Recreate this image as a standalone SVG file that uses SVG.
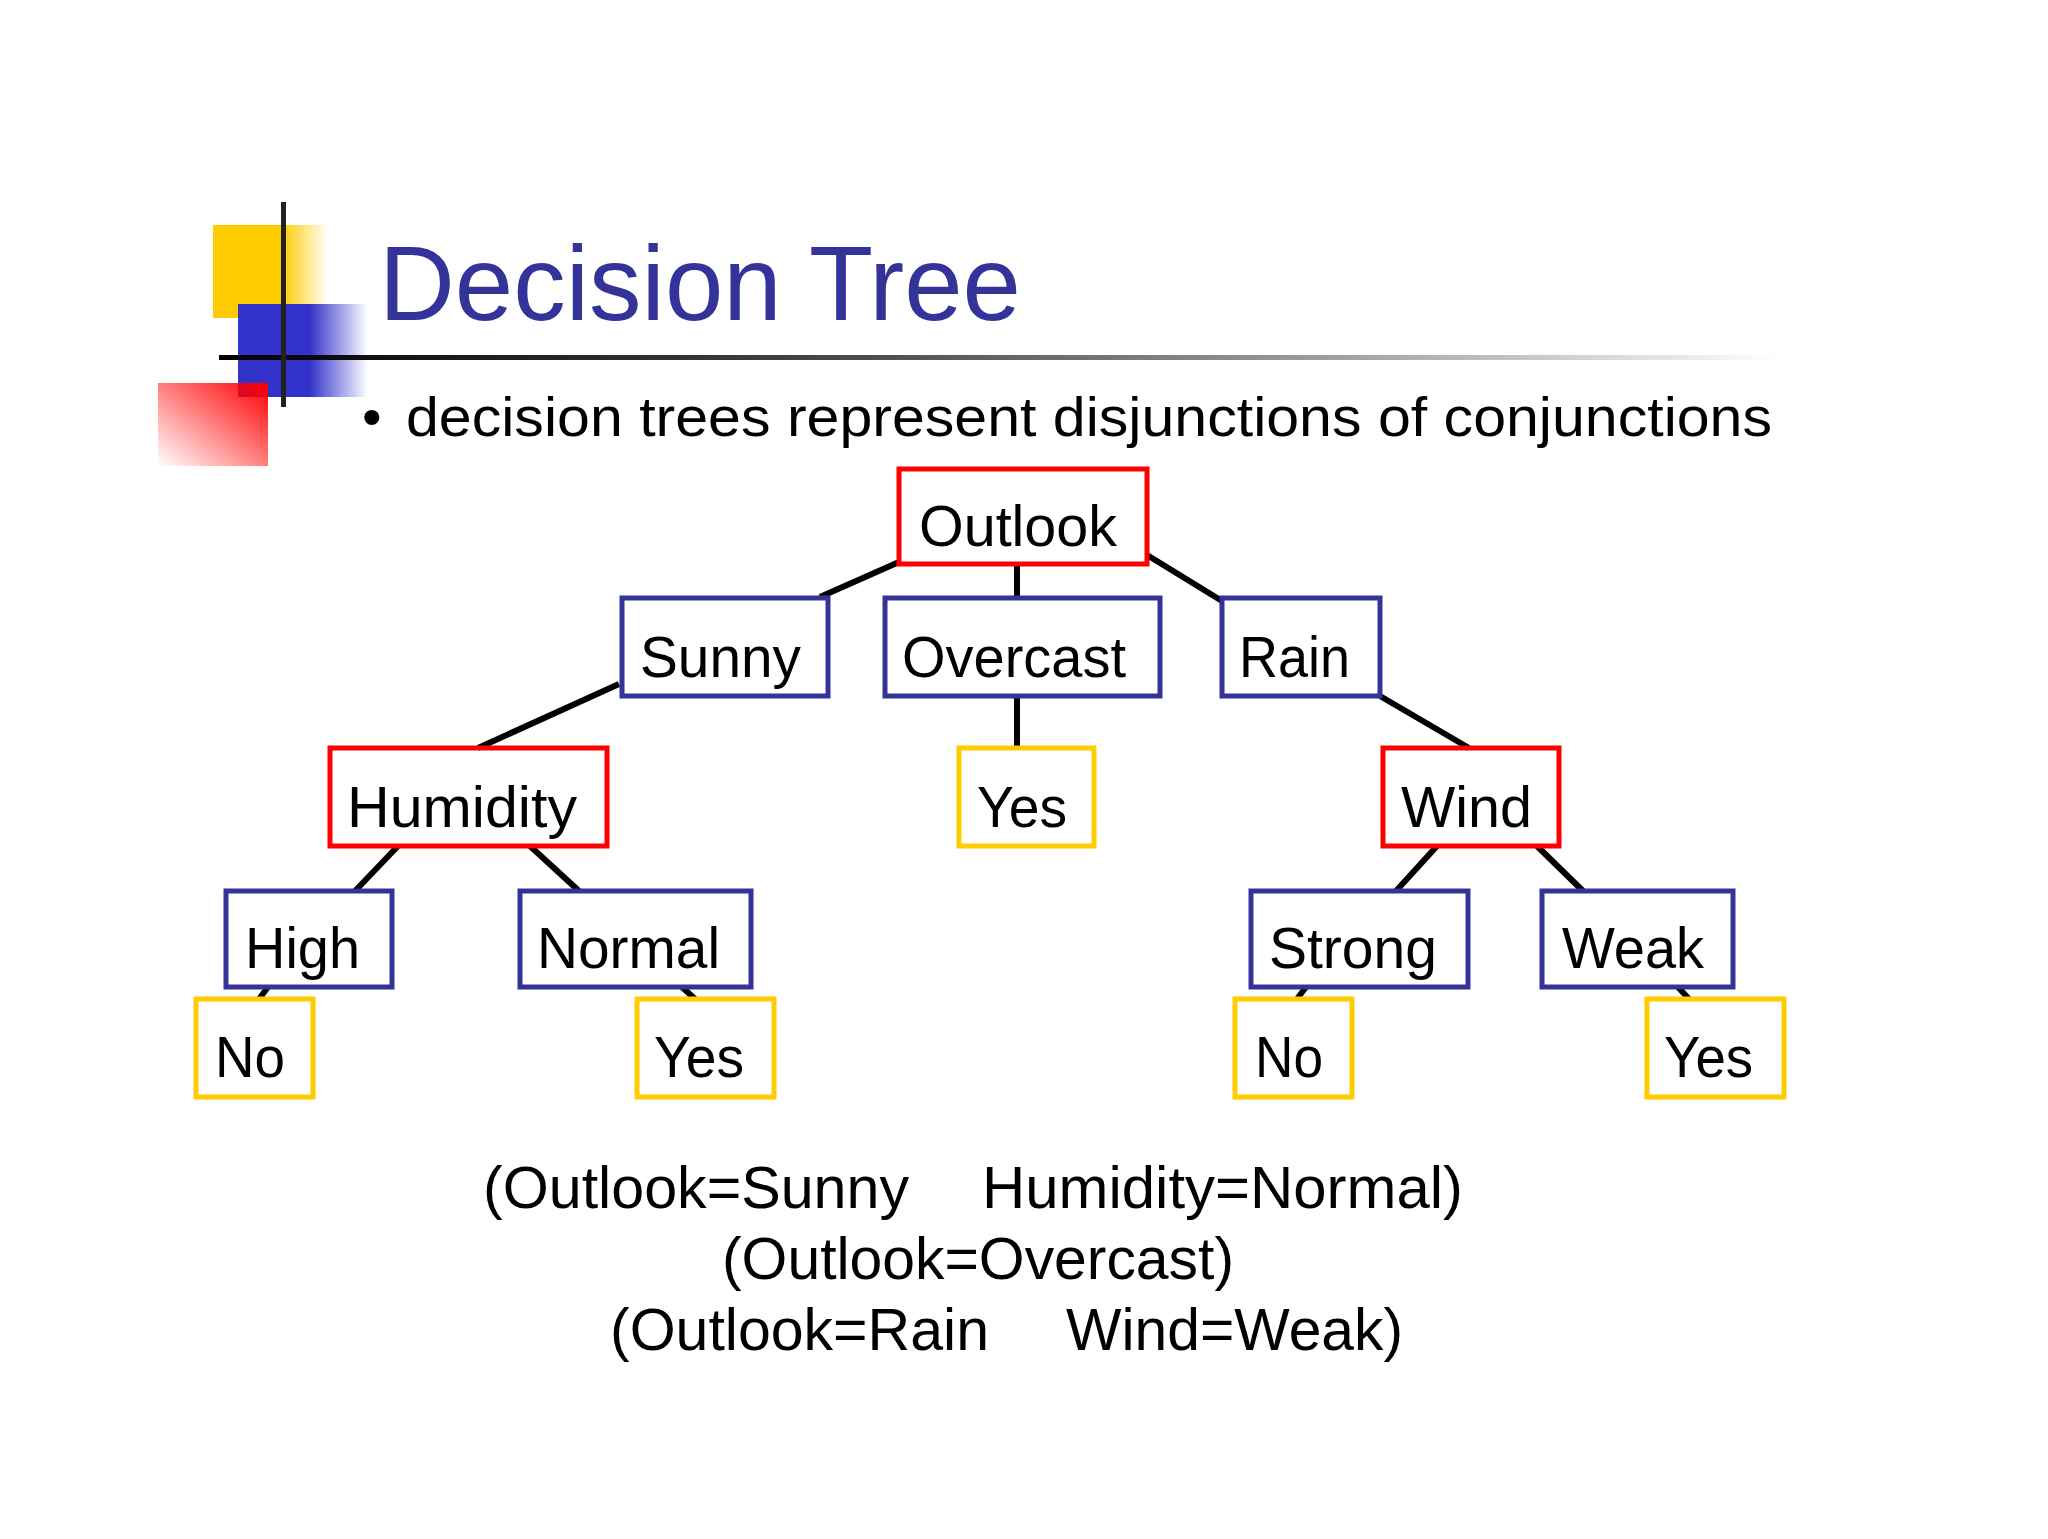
<svg xmlns="http://www.w3.org/2000/svg" width="2048" height="1539" viewBox="0 0 2048 1539">
<style>
text{font-family:"Liberation Sans",Arial,sans-serif;fill:#000}
.n{font-size:58px}
.r{fill:none;stroke:#ff0000;stroke-width:5}
.b{fill:none;stroke:#333399;stroke-width:5}
.y{fill:none;stroke:#ffcc00;stroke-width:5}
.c line{stroke:#000;stroke-width:6}
.f{font-size:60px}
</style>
<defs>
<linearGradient id="gy" x1="0" x2="1" y1="0" y2="0"><stop offset="0.6" stop-color="#ffcc00"/><stop offset="1" stop-color="#ffcc00" stop-opacity="0"/></linearGradient>
<linearGradient id="gb" x1="0" x2="1" y1="0" y2="0"><stop offset="0.55" stop-color="#3333cc"/><stop offset="1" stop-color="#3333cc" stop-opacity="0"/></linearGradient>
<linearGradient id="gr" x1="1" x2="0" y1="0" y2="1"><stop offset="0" stop-color="#ff0000"/><stop offset="1" stop-color="#ff0000" stop-opacity="0"/></linearGradient>
<linearGradient id="gl" x1="0" x2="1" y1="0" y2="0"><stop offset="0" stop-color="#000"/><stop offset="0.3" stop-color="#333"/><stop offset="1" stop-color="#000" stop-opacity="0"/></linearGradient>
</defs>
<rect width="2048" height="1539" fill="#fff"/>
<g id="decor">
<rect x="213" y="225" width="115" height="93" fill="url(#gy)"/>
<rect x="238" y="304" width="130" height="93" fill="url(#gb)"/>
<rect x="158" y="383" width="110" height="83" fill="url(#gr)"/>
<rect x="219" y="355" width="1560" height="5" fill="url(#gl)"/>
<rect x="281" y="202" width="5" height="205" fill="#222"/>
</g>
<text x="379" y="320" font-size="106" fill="#333399" style="fill:#333399" textLength="642" lengthAdjust="spacingAndGlyphs">Decision Tree</text>
<text x="362" y="436" font-size="56">•</text>
<text x="406" y="436" font-size="56" textLength="1366" lengthAdjust="spacingAndGlyphs">decision trees represent disjunctions of conjunctions</text>
<g class="c" id="connectors">
<line x1="899" y1="562" x2="820" y2="597"/>
<line x1="1017" y1="564" x2="1017" y2="598"/>
<line x1="1147" y1="555" x2="1222" y2="601"/>
<line x1="619" y1="684" x2="478" y2="748"/>
<line x1="1017" y1="696" x2="1017" y2="748"/>
<line x1="1380" y1="696" x2="1469" y2="748"/>
<line x1="398" y1="846" x2="355" y2="891"/>
<line x1="530" y1="846" x2="579" y2="891"/>
<line x1="1437" y1="846" x2="1396" y2="891"/>
<line x1="1537" y1="846" x2="1583" y2="891"/>
<line x1="268" y1="987" x2="259" y2="999"/>
<line x1="682" y1="987" x2="695" y2="999"/>
<line x1="1306" y1="987" x2="1297" y2="999"/>
<line x1="1678" y1="987" x2="1689" y2="999"/>
</g>
<g id="outlook"><rect class="r" x="899" y="469" width="248" height="95"/><text class="n" x="919" y="546" textLength="198" lengthAdjust="spacingAndGlyphs">Outlook</text></g>
<g id="sunny"><rect class="b" x="622" y="598" width="206" height="98"/><text class="n" x="640" y="677" textLength="161" lengthAdjust="spacingAndGlyphs">Sunny</text></g>
<g id="overcast"><rect class="b" x="885" y="598" width="275" height="98"/><text class="n" x="902" y="677" textLength="224" lengthAdjust="spacingAndGlyphs">Overcast</text></g>
<g id="rain"><rect class="b" x="1222" y="598" width="158" height="98"/><text class="n" x="1239" y="677" textLength="111" lengthAdjust="spacingAndGlyphs">Rain</text></g>
<g id="humidity"><rect class="r" x="330" y="748" width="277" height="98"/><text class="n" x="347" y="827" textLength="230" lengthAdjust="spacingAndGlyphs">Humidity</text></g>
<g id="yes1"><rect class="y" x="959" y="748" width="135" height="98"/><text class="n" x="977" y="827" textLength="90" lengthAdjust="spacingAndGlyphs">Yes</text></g>
<g id="wind"><rect class="r" x="1383" y="748" width="176" height="98"/><text class="n" x="1401" y="827" textLength="131" lengthAdjust="spacingAndGlyphs">Wind</text></g>
<g id="high"><rect class="b" x="226" y="891" width="166" height="96"/><text class="n" x="245" y="968" textLength="115" lengthAdjust="spacingAndGlyphs">High</text></g>
<g id="normal"><rect class="b" x="520" y="891" width="231" height="96"/><text class="n" x="537" y="968" textLength="183" lengthAdjust="spacingAndGlyphs">Normal</text></g>
<g id="strong"><rect class="b" x="1251" y="891" width="217" height="96"/><text class="n" x="1269" y="968" textLength="168" lengthAdjust="spacingAndGlyphs">Strong</text></g>
<g id="weak"><rect class="b" x="1542" y="891" width="191" height="96"/><text class="n" x="1562" y="968" textLength="142" lengthAdjust="spacingAndGlyphs">Weak</text></g>
<g id="no1"><rect class="y" x="196" y="999" width="117" height="98"/><text class="n" x="215" y="1077" textLength="70" lengthAdjust="spacingAndGlyphs">No</text></g>
<g id="yes2"><rect class="y" x="637" y="999" width="137" height="98"/><text class="n" x="654" y="1077" textLength="90" lengthAdjust="spacingAndGlyphs">Yes</text></g>
<g id="no2"><rect class="y" x="1235" y="999" width="117" height="98"/><text class="n" x="1255" y="1077" textLength="68" lengthAdjust="spacingAndGlyphs">No</text></g>
<g id="yes3"><rect class="y" x="1647" y="999" width="137" height="98"/><text class="n" x="1664" y="1077" textLength="89" lengthAdjust="spacingAndGlyphs">Yes</text></g>
<g id="formula">
<text class="f" x="483" y="1208" textLength="426" lengthAdjust="spacingAndGlyphs">(Outlook=Sunny</text>
<text class="f" x="982" y="1208" textLength="481" lengthAdjust="spacingAndGlyphs">Humidity=Normal)</text>
<text class="f" x="722" y="1279" textLength="512" lengthAdjust="spacingAndGlyphs">(Outlook=Overcast)</text>
<text class="f" x="610" y="1350" textLength="379" lengthAdjust="spacingAndGlyphs">(Outlook=Rain</text>
<text class="f" x="1066" y="1350" textLength="337" lengthAdjust="spacingAndGlyphs">Wind=Weak)</text>
</g>
</svg>
